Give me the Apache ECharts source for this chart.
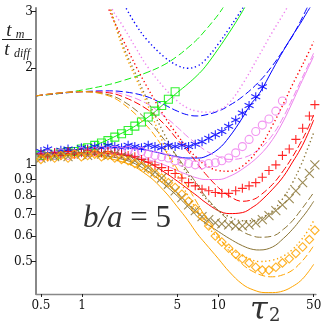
<!DOCTYPE html>
<html>
<head>
<meta charset="utf-8">
<script src="https://cdn.jsdelivr.net/npm/echarts@6/dist/echarts.min.js"></script>
<style>
html, body { margin: 0; padding: 0; background: #fff; }
#chart { width: 327px; height: 327px; }
</style>
</head>
<body>
<div id="chart"></div>
<script>
// axes
var xRange = [0.46, 52];
var yRange = [0.396, 3.08];
var xTicks = [0.5, 1, 5, 10, 50];
var yTicks = [0.5, 0.6, 0.7, 0.8, 0.9, 1, 2, 3];

// simulation points, same tau grid for every marker set
var tauSim = [0.5, 0.56, 0.63, 0.7, 0.79, 0.88, 0.99, 1.1, 1.24, 1.39, 1.55, 1.74, 1.95, 2.18, 2.44, 2.73, 3.06, 3.43, 3.84, 4.3, 4.82, 5.4, 6.05, 6.77, 7.59, 8.5, 9.5, 10.6, 11.9, 13.4, 15, 16.8, 18.8, 21, 23.5, 26.4, 29.5, 33.1, 37, 41.5, 46.5, 51];
var simGreen = [1.07, 1.08, 1.07, 1.09, 1.10, 1.10, 1.12, 1.13, 1.15, 1.17, 1.19, 1.22, 1.25, 1.28, 1.32, 1.36, 1.41, 1.47, 1.53, 1.60, 1.69];
var simBlue = [1.10, 1.12, 1.09, 1.11, 1.12, 1.10, 1.13, 1.12, 1.14, 1.13, 1.15, 1.14, 1.13, 1.15, 1.14, 1.13, 1.15, 1.14, 1.13, 1.15, 1.14, 1.15, 1.14, 1.16, 1.18, 1.21, 1.24, 1.27, 1.32, 1.38, 1.45, 1.53, 1.63, 1.75];
var simViolet = [1.06, 1.08, 1.07, 1.09, 1.07, 1.08, 1.10, 1.09, 1.10, 1.11, 1.10, 1.11, 1.10, 1.11, 1.09, 1.10, 1.08, 1.07, 1.06, 1.05, 1.03, 1.02, 1.01, 1.00, 1.00, 1.01, 1.015, 1.03, 1.05, 1.09, 1.14, 1.20, 1.27, 1.33, 1.39, 1.47, 1.58];
var simRed = [1.08, 1.06, 1.09, 1.07, 1.10, 1.08, 1.09, 1.11, 1.10, 1.09, 1.10, 1.09, 1.08, 1.07, 1.06, 1.04, 1.02, 1.00, 0.98, 0.96, 0.94, 0.91, 0.88, 0.86, 0.84, 0.83, 0.82, 0.815, 0.815, 0.83, 0.845, 0.86, 0.88, 0.915, 0.96, 1.0, 1.07, 1.12, 1.20, 1.30, 1.42, 1.54];
var simBrown = [1.05, 1.07, 1.06, 1.08, 1.06, 1.09, 1.08, 1.07, 1.09, 1.08, 1.07, 1.08, 1.06, 1.05, 1.03, 1.01, 0.98, 0.95, 0.91, 0.87, 0.83, 0.79, 0.75, 0.72, 0.69, 0.675, 0.66, 0.655, 0.65, 0.645, 0.645, 0.65, 0.66, 0.675, 0.695, 0.72, 0.75, 0.785, 0.83, 0.88, 0.94, 1.0];
var simOrange = [1.04, 1.06, 1.05, 1.07, 1.05, 1.08, 1.06, 1.07, 1.08, 1.06, 1.07, 1.05, 1.04, 1.03, 1.01, 0.99, 0.97, 0.94, 0.91, 0.88, 0.85, 0.81, 0.77, 0.73, 0.69, 0.645, 0.6, 0.575, 0.55, 0.527, 0.51, 0.495, 0.48, 0.47, 0.47, 0.48, 0.495, 0.51, 0.53, 0.555, 0.585, 0.625];

// theory curves [tau, tm/tdiff]
var greenSolid = [[0.46,1.07],[1,1.12],[2,1.26],[3,1.40],[4,1.55],[5,1.68],[6,1.79],[7,1.9],[8,2.02],[10,2.3],[12,2.58],[14,2.86],[16,3.15]];
var greenDashed = [[0.46,1.64],[0.7,1.67],[1,1.71],[1.5,1.77],[2,1.83],[3,1.94],[4,2.05],[5,2.18],[6,2.32],[7,2.46],[8,2.62],[9,2.78],[10,2.94],[11,3.12]];

var blueSolid = [[0.46,1.08],[1,1.12],[2,1.13],[3,1.11],[4,1.08],[5,1.06],[6,1.05],[7,1.05],[8,1.06],[10,1.12],[12,1.22],[15,1.4],[17,1.53],[20,1.67],[25,1.98],[30,2.27],[35,2.53],[40,2.76],[45,3.0],[50,3.22]];
var blueDashed = [[0.46,1.64],[0.7,1.67],[1,1.69],[1.5,1.7],[2,1.69],[3,1.63],[4,1.54],[5,1.47],[6,1.43],[7,1.42],[8,1.43],[10,1.47],[12,1.53],[15,1.63],[20,1.82],[25,2.04],[30,2.28],[35,2.52],[40,2.8],[45,3.1]];
var blueDotted = [[1.5,4.2],[1.8,3.5],[2,3.2],[2.5,2.72],[3,2.45],[4,2.17],[5,2.04],[6,2.0],[7,2.03],[8,2.12],[10,2.38],[12,2.66],[14,2.93],[16,3.2]];

var violetSolid = [[0.46,1.06],[1,1.09],[2,1.08],[3,1.04],[4,1.0],[5,0.96],[6,0.93],[7,0.91],[8,0.9],[10,0.9],[12,0.92],[15,0.97],[20,1.07],[25,1.2],[30,1.37],[35,1.57],[40,1.78],[45,1.98],[50,2.18]];
var violetDashed = [[0.46,1.64],[1,1.69],[1.5,1.69],[2,1.66],[3,1.55],[4,1.42],[5,1.31],[6,1.22],[7,1.16],[8,1.11],[10,1.06],[12,1.04],[15,1.05],[20,1.12],[25,1.24],[30,1.41],[35,1.61],[40,1.82],[45,2.02],[50,2.23]];
var violetDotted = [[1.4,3.8],[1.65,3.08],[2,2.7],[2.5,2.3],[3,2.03],[4,1.74],[5,1.58],[6,1.5],[7,1.47],[8,1.46],[10,1.48],[12,1.56],[15,1.78],[20,2.2],[25,2.6],[30,2.95],[35,3.3]];

var redSolid = [[0.46,1.06],[1,1.09],[2,1.07],[3,1.02],[4,0.95],[5,0.89],[6,0.84],[7,0.8],[8,0.765],[10,0.72],[12,0.705],[15,0.71],[18,0.74],[20,0.765],[25,0.84],[30,0.92],[35,1.02],[40,1.12],[45,1.24],[50,1.38]];
var redDashed = [[0.46,1.64],[1,1.69],[1.5,1.68],[2,1.63],[3,1.49],[4,1.34],[5,1.2],[6,1.1],[7,1.01],[8,0.94],[10,0.85],[12,0.8],[15,0.77],[18,0.78],[20,0.8],[25,0.87],[30,0.96],[35,1.06],[40,1.17],[45,1.29],[50,1.43]];
var redDotted = [[1.3,3.9],[1.55,3.1],[2,2.45],[2.5,2.02],[3,1.75],[4,1.42],[5,1.24],[6,1.12],[7,1.05],[8,1.0],[10,0.96],[12,0.955],[15,0.99],[20,1.13],[25,1.33],[30,1.55],[35,1.78],[40,1.99],[45,2.2],[50,2.42]];

var brownSolid = [[0.46,1.06],[1,1.08],[2,1.04],[3,0.96],[4,0.87],[5,0.8],[6,0.74],[7,0.69],[8,0.66],[10,0.62],[12,0.59],[15,0.56],[18,0.545],[20,0.543],[25,0.555],[30,0.59],[35,0.63],[40,0.675],[45,0.72],[50,0.77]];
var brownDashed = [[0.46,1.64],[1,1.69],[1.5,1.66],[2,1.58],[3,1.38],[4,1.2],[5,1.06],[6,0.95],[7,0.87],[8,0.8],[10,0.72],[12,0.67],[15,0.62],[18,0.6],[20,0.595],[25,0.6],[30,0.63],[35,0.67],[40,0.72],[45,0.77],[50,0.82]];
var brownDotted = [[1.35,3.9],[1.6,3.1],[2,2.35],[2.5,1.9],[3,1.6],[4,1.25],[5,1.05],[6,0.93],[7,0.85],[8,0.79],[10,0.72],[12,0.69],[15,0.67],[18,0.67],[20,0.68],[25,0.72],[30,0.79],[35,0.88],[40,0.99],[45,1.12],[50,1.26]];

var orangeSolid = [[0.46,1.05],[1,1.07],[2,1.02],[3,0.93],[4,0.83],[5,0.74],[6,0.67],[7,0.61],[8,0.57],[10,0.51],[12,0.465],[15,0.425],[18,0.408],[22,0.4],[25,0.4],[30,0.405],[35,0.418],[40,0.435],[45,0.46],[50,0.49]];
var orangeDashed = [[0.46,1.64],[1,1.69],[1.5,1.65],[2,1.55],[3,1.32],[4,1.12],[5,0.97],[6,0.85],[7,0.76],[8,0.69],[10,0.6],[12,0.54],[15,0.49],[18,0.465],[22,0.45],[25,0.448],[30,0.455],[35,0.47],[40,0.495],[45,0.525],[50,0.56]];
var orangeDotted = [[1.4,3.8],[1.6,3.1],[2,2.3],[2.5,1.85],[3,1.55],[4,1.15],[5,0.93],[6,0.8],[7,0.72],[8,0.66],[10,0.59],[13,0.54],[16,0.515],[20,0.5],[25,0.505],[30,0.52],[35,0.545],[40,0.58],[45,0.62],[50,0.67]];

var PLUS = 'path://M5,0L5,10M0,5L10,5';
var CROSS = 'path://M0,0L10,10M10,0L0,10';
var STAR = 'path://M5,0L5,10M0.7,2.5L9.3,7.5M0.7,7.5L9.3,2.5';

var families = [
  { color: '#11ee11', sim: simGreen, symbol: 'rect', size: 8, lines: [greenSolid, greenDashed, null] },
  { color: '#0000ff', sim: simBlue, symbol: STAR, size: 9, lines: [blueSolid, blueDashed, blueDotted] },
  { color: '#ee82ee', sim: simViolet, symbol: 'circle', size: 8, lines: [violetSolid, violetDashed, violetDotted] },
  { color: '#ff0000', sim: simRed, symbol: PLUS, size: 9, lines: [redSolid, redDashed, redDotted] },
  { color: '#8b7536', sim: simBrown, symbol: CROSS, size: 9, lines: [brownSolid, brownDashed, brownDotted] },
  { color: '#ffa500', sim: simOrange, symbol: 'rect', size: 6, rotate: 45, lines: [orangeSolid, orangeDashed, orangeDotted] }
];

var lineTypes = ['solid', [7, 3], [1.3, 2.7]];

var series = [];
families.forEach(function (f) {
  f.lines.forEach(function (pts, k) {
    if (!pts) return;
    series.push({
      type: 'line',
      data: pts,
      symbol: 'none',
      smooth: 0.4,
      silent: true,
      z: 2,
      lineStyle: { color: f.color, width: k === 2 ? 1.4 : 1, type: lineTypes[k] }
    });
  });
  series.push({
    type: 'scatter',
    symbol: f.symbol,
    symbolSize: f.size,
    symbolRotate: f.rotate || 0,
    silent: true,
    z: 3,
    data: f.sim.map(function (v, i) { return [tauSim[i], v]; }),
    itemStyle: { color: 'rgba(0,0,0,0)', borderColor: f.color, borderWidth: 1.1, opacity: 0.85 }
  });
});

function fmt(v) { return String(+Math.pow(10, v).toPrecision(2)); }
var labelFont = { color: '#111', fontFamily: 'DejaVu Serif', fontSize: 12 };

var option = {
  animation: false,
  backgroundColor: '#fff',
  grid: { left: 36, right: 11, top: 8, bottom: 33, outerBoundsMode: 'none' },
  xAxis: [
    { type: 'log', min: xRange[0], max: xRange[1], axisLine: { show: false }, axisTick: { show: false }, axisLabel: { show: false }, splitLine: { show: false } },
    { type: 'value', position: 'bottom', min: Math.log10(xRange[0]), max: Math.log10(xRange[1]),
      axisLine: { show: true, lineStyle: { color: '#888', width: 1.3 } },
      axisTick: { show: true, length: 3, customValues: xTicks.map(Math.log10), lineStyle: { color: '#222' } },
      axisLabel: Object.assign({ margin: 6, customValues: xTicks.map(Math.log10), formatter: fmt }, labelFont),
      splitLine: { show: false } }
  ],
  yAxis: [
    { type: 'log', min: yRange[0], max: yRange[1], axisLine: { show: false }, axisTick: { show: false }, axisLabel: { show: false }, splitLine: { show: false } },
    { type: 'value', position: 'left', min: Math.log10(yRange[0]), max: Math.log10(yRange[1]),
      axisLine: { show: true, lineStyle: { color: '#888', width: 2 } },
      axisTick: { show: true, length: 5, customValues: yTicks.map(Math.log10), lineStyle: { color: '#222' } },
      axisLabel: Object.assign({ margin: 3, customValues: yTicks.map(Math.log10), formatter: fmt }, labelFont),
      splitLine: { show: false } }
  ],
  series: series,
  graphic: [
    { type: 'text', style: { x: 9, y: 31, text: 't', font: 'italic 19px "Liberation Serif"', fill: '#222', align: 'center', verticalAlign: 'middle' } },
    { type: 'text', style: { x: 20, y: 35, text: 'm', font: 'italic 12px "Liberation Serif"', fill: '#222', align: 'center', verticalAlign: 'middle' } },
    { type: 'line', shape: { x1: 2, y1: 39.5, x2: 32, y2: 39.5 }, style: { stroke: '#222', lineWidth: 1 } },
    { type: 'text', style: { x: 7, y: 50, text: 't', font: 'italic 19px "Liberation Serif"', fill: '#222', align: 'center', verticalAlign: 'middle' } },
    { type: 'text', style: { x: 22, y: 54, text: 'diff', font: 'italic 12px "Liberation Serif"', fill: '#222', align: 'center', verticalAlign: 'middle' } },
    { type: 'text', style: { x: 83, y: 219, text: '{i|b/a}{n| = 5}', verticalAlign: 'middle',
        rich: { i: { font: 'italic 31px "Liberation Serif"', fill: '#333' }, n: { font: '31px "Liberation Serif"', fill: '#333' } } } },
    { type: 'text', style: { x: 250, y: 311, text: '\u03c4', font: 'italic 32px "DejaVu Serif"', fill: '#333', verticalAlign: 'middle' } },
    { type: 'text', style: { x: 269, y: 316, text: '2', font: '18px "DejaVu Serif"', fill: '#333', verticalAlign: 'middle' } }
  ]
};

var chart = echarts.init(document.getElementById('chart'));
chart.setOption(option);
</script>
</body>
</html>
